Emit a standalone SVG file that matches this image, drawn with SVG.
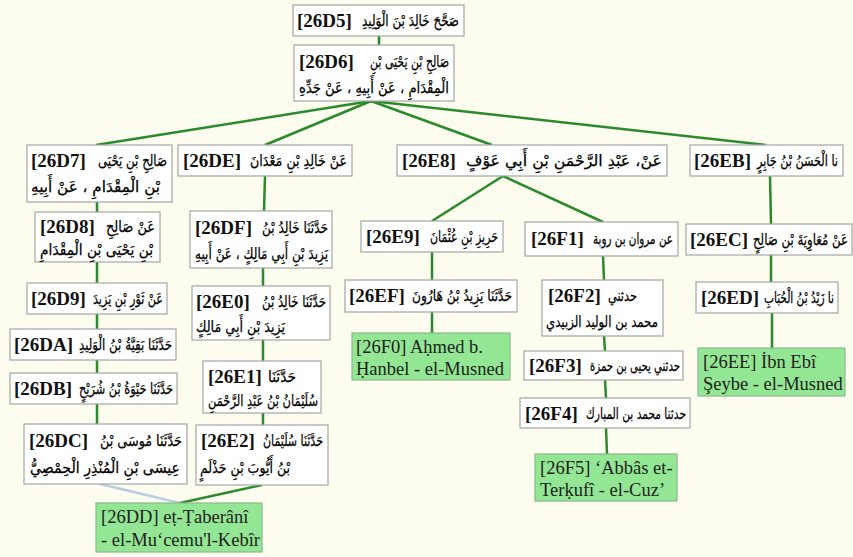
<svg xmlns="http://www.w3.org/2000/svg" width="853" height="557" viewBox="0 0 853 557">
  <style>
    .bg { fill: #fcfcef; }
    .box { fill: #ffffff; stroke: #a6a6a6; stroke-width: 1.2; }
    .leaf { fill: #93e693; stroke: #8cb88c; stroke-width: 1.2; }
    .lbl { font-family: "Liberation Serif", "Times New Roman", serif; font-weight: bold; font-size: 19px; fill: #111; }
    .ar { font-family: "DejaVu Sans", "Noto Sans", sans-serif; font-size: 15.5px; fill: #000; stroke: #000; stroke-width: 0.25; }
    .end { text-anchor: end; }
    .lat { font-family: "Liberation Serif", "Times New Roman", serif; font-size: 18.5px; fill: #222; }
    .edge { stroke: #2b8a2b; stroke-width: 2.5; fill: none; }
    .edge-soft { stroke: #b9cfe0; stroke-width: 2.5; fill: none; }
  </style>
  <rect class="bg" x="0" y="0" width="853" height="557"/>

  <g id="connectors">
    <line class="edge" x1="379" y1="36" x2="379" y2="45"/>
    <line class="edge" x1="371" y1="101" x2="96" y2="145"/>
    <line class="edge" x1="371" y1="101" x2="265" y2="145"/>
    <line class="edge" x1="371" y1="101" x2="492" y2="145"/>
    <line class="edge" x1="371" y1="101" x2="766" y2="145"/>
    <!-- left chain -->
    <line class="edge" x1="97" y1="202" x2="97" y2="212"/>
    <line class="edge" x1="97" y1="262" x2="97" y2="283"/>
    <line class="edge" x1="97" y1="314" x2="97" y2="329"/>
    <line class="edge" x1="97" y1="360" x2="97" y2="373"/>
    <line class="edge" x1="97" y1="404" x2="97" y2="424"/>
    <line class="edge-soft" x1="100" y1="484" x2="180" y2="503"/>
    <!-- second chain -->
    <line class="edge" x1="265" y1="176" x2="264" y2="211"/>
    <line class="edge" x1="263" y1="268" x2="263" y2="286"/>
    <line class="edge" x1="263" y1="340" x2="263" y2="361"/>
    <line class="edge" x1="263" y1="413" x2="263" y2="425"/>
    <line class="edge" x1="262" y1="485" x2="180" y2="503"/>
    <!-- third chain -->
    <line class="edge" x1="503" y1="176" x2="432" y2="221"/>
    <line class="edge" x1="432" y1="252" x2="432" y2="280"/>
    <line class="edge" x1="432" y1="312" x2="432" y2="333"/>
    <!-- fourth chain -->
    <line class="edge" x1="503" y1="176" x2="603" y2="222"/>
    <line class="edge" x1="603" y1="256" x2="604" y2="280"/>
    <line class="edge" x1="604" y1="336" x2="605" y2="351"/>
    <line class="edge" x1="605" y1="380" x2="606" y2="398"/>
    <line class="edge" x1="606" y1="428" x2="607" y2="454"/>
    <!-- right chain -->
    <line class="edge" x1="770" y1="176" x2="771" y2="224"/>
    <line class="edge" x1="771" y1="255" x2="771" y2="282"/>
    <line class="edge" x1="772" y1="313" x2="772" y2="348"/>
  </g>

  <g id="n26D5">
    <rect class="box" x="293" y="5" width="171" height="31"/>
    <text class="lbl" x="297" y="27">[26D5]</text>
    <text class="ar" x="362" y="26" textLength="97" lengthAdjust="spacingAndGlyphs">صَحَّحَ خَالِدَ بْنَ الْوَلِيدِ</text>
  </g>
  <g id="n26D6">
    <rect class="box" x="294" y="45" width="160" height="56"/>
    <text class="lbl" x="299" y="68">[26D6]</text>
    <text class="ar" x="370" y="67" textLength="79" lengthAdjust="spacingAndGlyphs">صَالِحِ بْنِ يَحْيَى بْنِ</text>
    <text class="ar" x="299" y="93" textLength="150" lengthAdjust="spacingAndGlyphs">الْمِقْدَامِ ، عَنْ أَبِيهِ ، عَنْ جَدِّهِ</text>
  </g>

  <g id="n26D7">
    <rect class="box" x="27" y="145" width="145" height="57"/>
    <text class="lbl" x="31" y="167">[26D7]</text>
    <text class="ar" x="98" y="166" textLength="69" lengthAdjust="spacingAndGlyphs">صَالِحِ بْنِ يَحْيَى</text>
    <text class="ar" x="31" y="192" textLength="129" lengthAdjust="spacingAndGlyphs">بْنِ الْمِقْدَامِ ، عَنْ أَبِيهِ</text>
  </g>
  <g id="n26D8">
    <rect class="box" x="35" y="212" width="125" height="50"/>
    <text class="lbl" x="40" y="233">[26D8]</text>
    <text class="ar" x="106" y="232" textLength="49" lengthAdjust="spacingAndGlyphs">عَنْ صَالِحِ</text>
    <text class="ar" x="40" y="255" textLength="113" lengthAdjust="spacingAndGlyphs">بْنِ يَحْيَى بْنِ الْمِقْدَامِ</text>
  </g>
  <g id="n26D9">
    <rect class="box" x="27" y="283" width="140" height="31"/>
    <text class="lbl" x="31" y="305">[26D9]</text>
    <text class="ar" x="93" y="304" textLength="70" lengthAdjust="spacingAndGlyphs">عَنْ ثَوْرِ بْنِ يَزِيدَ</text>
  </g>
  <g id="n26DA">
    <rect class="box" x="10" y="329" width="166" height="31"/>
    <text class="lbl" x="14" y="351">[26DA]</text>
    <text class="ar" x="79" y="350" textLength="93" lengthAdjust="spacingAndGlyphs">حَدَّثَنَا بَقِيَّةُ بْنُ الْوَلِيدِ</text>
  </g>
  <g id="n26DB">
    <rect class="box" x="10" y="373" width="167" height="31"/>
    <text class="lbl" x="14" y="395">[26DB]</text>
    <text class="ar" x="79" y="394" textLength="94" lengthAdjust="spacingAndGlyphs">حَدَّثَنَا حَيْوَةُ بْنُ شُرَيْحٍ</text>
  </g>
  <g id="n26DC">
    <rect class="box" x="24" y="424" width="163" height="60"/>
    <text class="lbl" x="29" y="447">[26DC]</text>
    <text class="ar" x="100" y="446" textLength="82" lengthAdjust="spacingAndGlyphs">حَدَّثَنَا مُوسَى بْنُ</text>
    <text class="ar" x="30" y="473" textLength="150" lengthAdjust="spacingAndGlyphs">عِيسَى بْنِ الْمُنْذِرِ الْحِمْصِيُّ</text>
  </g>
  <g id="n26DD">
    <rect class="leaf" x="96" y="503" width="166" height="49"/>
    <text class="lat" x="101" y="523">[26DD] eṭ-Ṭaberânî</text>
    <text class="lat" x="101" y="546">- el-Mu‘cemu'l-Kebîr</text>
  </g>

  <g id="n26DE">
    <rect class="box" x="178" y="145" width="174" height="31"/>
    <text class="lbl" x="183" y="167">[26DE]</text>
    <text class="ar" x="250" y="166" textLength="97" lengthAdjust="spacingAndGlyphs">عَنْ خَالِدِ بْنِ مَعْدَانَ</text>
  </g>
  <g id="n26DF">
    <rect class="box" x="190" y="211" width="142" height="57"/>
    <text class="lbl" x="195" y="234">[26DF]</text>
    <text class="ar" x="262" y="233" textLength="66" lengthAdjust="spacingAndGlyphs">حَدَّثَنَا خَالِدُ بْنُ</text>
    <text class="ar" x="195" y="259" textLength="133" lengthAdjust="spacingAndGlyphs">يَزِيدَ بْنِ أَبِي مَالِكٍ ، عَنْ أَبِيهِ</text>
  </g>
  <g id="n26E0">
    <rect class="box" x="192" y="286" width="138" height="54"/>
    <text class="lbl" x="196" y="308">[26E0]</text>
    <text class="ar" x="262" y="307" textLength="64" lengthAdjust="spacingAndGlyphs">حَدَّثَنَا خَالِدُ بْنُ</text>
    <text class="ar" x="196" y="332" textLength="89" lengthAdjust="spacingAndGlyphs">يَزِيدَ بْنِ أَبِي مَالِكٍ</text>
  </g>
  <g id="n26E1">
    <rect class="box" x="203" y="361" width="118" height="52"/>
    <text class="lbl" x="208" y="383">[26E1]</text>
    <text class="ar" x="268" y="382" textLength="28" lengthAdjust="spacingAndGlyphs">حَدَّثَنَا</text>
    <text class="ar" x="208" y="406" textLength="110" lengthAdjust="spacingAndGlyphs">سُلَيْمَانُ بْنُ عَبْدِ الرَّحْمَنِ</text>
  </g>
  <g id="n26E2">
    <rect class="box" x="196" y="425" width="132" height="60"/>
    <text class="lbl" x="201" y="447">[26E2]</text>
    <text class="ar" x="263" y="446" textLength="60" lengthAdjust="spacingAndGlyphs">حَدَّثَنَا سُلَيْمَانُ</text>
    <text class="ar" x="200" y="473" textLength="90" lengthAdjust="spacingAndGlyphs">بْنُ أَيُّوبَ بْنِ حَذْلَمٍ</text>
  </g>

  <g id="n26E8">
    <rect class="box" x="397" y="145" width="270" height="31"/>
    <text class="lbl" x="402" y="167">[26E8]</text>
    <text class="ar" x="466" y="166" textLength="196" lengthAdjust="spacingAndGlyphs">عَنْ، عَبْدِ الرَّحْمَنِ بْنِ أَبِي عَوْفٍ</text>
  </g>
  <g id="n26E9">
    <rect class="box" x="361" y="221" width="142" height="31"/>
    <text class="lbl" x="366" y="243">[26E9]</text>
    <text class="ar" x="430" y="242" textLength="68" lengthAdjust="spacingAndGlyphs">حَرِيزِ بْنِ عُثْمَانَ</text>
  </g>
  <g id="n26EF">
    <rect class="box" x="345" y="280" width="172" height="32"/>
    <text class="lbl" x="349" y="302">[26EF]</text>
    <text class="ar" x="412" y="301" textLength="100" lengthAdjust="spacingAndGlyphs">حَدَّثَنَا يَزِيدُ بْنُ هَارُونَ</text>
  </g>
  <g id="n26F0">
    <rect class="leaf" x="352" y="333" width="158" height="47"/>
    <text class="lat" x="356" y="353">[26F0] Aḥmed b.</text>
    <text class="lat" x="356" y="375">Ḥanbel - el-Musned</text>
  </g>

  <g id="n26F1">
    <rect class="box" x="525" y="222" width="153" height="34"/>
    <text class="lbl" x="531" y="245">[26F1]</text>
    <text class="ar" x="593" y="244" textLength="80" lengthAdjust="spacingAndGlyphs">عن مروان بن روبة</text>
  </g>
  <g id="n26F2">
    <rect class="box" x="542" y="280" width="121" height="56"/>
    <text class="lbl" x="548" y="302">[26F2]</text>
    <text class="ar" x="608" y="301" textLength="29" lengthAdjust="spacingAndGlyphs">حدثني</text>
    <text class="ar" x="546" y="327" textLength="112" lengthAdjust="spacingAndGlyphs">محمد بن الوليد الزبيدي</text>
  </g>
  <g id="n26F3">
    <rect class="box" x="524" y="351" width="159" height="29"/>
    <text class="lbl" x="529" y="372">[26F3]</text>
    <text class="ar" x="590" y="371" textLength="90" lengthAdjust="spacingAndGlyphs">حدثني يحيى بن حمزة</text>
  </g>
  <g id="n26F4">
    <rect class="box" x="520" y="398" width="170" height="30"/>
    <text class="lbl" x="525" y="420">[26F4]</text>
    <text class="ar" x="586" y="419" textLength="100" lengthAdjust="spacingAndGlyphs">حدثنا محمد بن المبارك</text>
  </g>
  <g id="n26F5">
    <rect class="leaf" x="535" y="454" width="142" height="47"/>
    <text class="lat" x="540" y="474">[26F5] ‘Abbâs et-</text>
    <text class="lat" x="540" y="496">Terḳufî - el-Cuz’</text>
  </g>

  <g id="n26EB">
    <rect class="box" x="690" y="145" width="153" height="31"/>
    <text class="lbl" x="694" y="167">[26EB]</text>
    <text class="ar end" x="838" y="166" textLength="81" lengthAdjust="spacingAndGlyphs">نا الْحَسَنُ بْنُ جَابِرٍ</text>
  </g>
  <g id="n26EC">
    <rect class="box" x="686" y="224" width="166" height="31"/>
    <text class="lbl" x="690" y="246">[26EC]</text>
    <text class="ar end" x="848" y="245" textLength="95" lengthAdjust="spacingAndGlyphs">عَنْ مُعَاوِيَةَ بْنِ صَالِحٍ</text>
  </g>
  <g id="n26ED">
    <rect class="box" x="696" y="282" width="142" height="31"/>
    <text class="lbl" x="701" y="304">[26ED]</text>
    <text class="ar end" x="834" y="303" textLength="70" lengthAdjust="spacingAndGlyphs">نا زَيْدُ بْنُ الْحُبَابِ</text>
  </g>
  <g id="n26EE">
    <rect class="leaf" x="698" y="348" width="147" height="48"/>
    <text class="lat" x="703" y="368">[26EE] İbn Ebî</text>
    <text class="lat" x="703" y="390">Şeybe - el-Musned</text>
  </g>
</svg>
